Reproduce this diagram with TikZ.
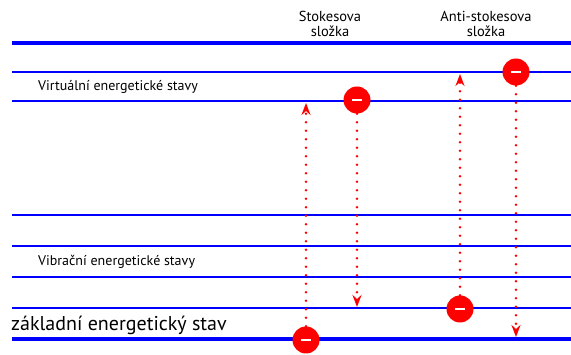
\documentclass[tikz,border=0pt]{standalone}
\usepackage{fontspec}
\setmainfont{PT Sans}
\usetikzlibrary{arrows.meta}
\begin{document}
\begin{tikzpicture}[x=1pt,y=-1pt,
 thinlvl/.style={blue, line width=2pt},
 thicklvl/.style={blue, line width=3.6pt},
 electron/.style={circle, fill=red, minimum size=27pt, inner sep=0pt,
   path picture={\fill[white] ([xshift=-5pt,yshift=-1.4pt]path picture bounding box.center) rectangle ++(10pt,2.8pt);}},
 trans/.style={red, line width=2.8pt, line cap=round, dash pattern=on 0pt off 8.5pt,
   -{Stealth[length=12pt,width=9pt,inset=4pt]}},
 lbl/.style={font=\fontsize{14}{16}\selectfont, anchor=base west, inner sep=0pt},
 head/.style={font=\fontsize{14.5}{15}\selectfont, align=center, inner sep=0pt, anchor=base}
]
\useasboundingbox (0,0) rectangle (571,355);
% energy levels
\draw[thicklvl] (12,43) -- (571,43);
\draw[thinlvl] (12,72) -- (571,72);
\draw[thinlvl] (12,101) -- (571,101);
\draw[thinlvl] (12,215) -- (571,215);
\draw[thinlvl] (12,246) -- (571,246);
\draw[thinlvl] (12,277) -- (571,277);
\draw[thinlvl] (12,308) -- (571,308);
\draw[thicklvl] (12,339) -- (571,339);
% labels
\node[head] (stk) at (330,37) {Stokesova\\složka};
\node[head] (ast) at (486,37) {Anti-stokesova\\složka};
\node[lbl] (virt) at (38,91) {Virtuální energetické stavy};
\node[lbl] (vib) at (38,266) {Vibrační energetické stavy};
\node[font=\fontsize{20}{22}\selectfont, anchor=base west, inner sep=0pt] (zak) at (11,331) {základní energetický stav};
% electrons
\node[electron] (g1) at (306,340) {};
\node[electron] (v1) at (357,100) {};
\node[electron] (a1) at (460,309) {};
\node[electron] (a2) at (516,72) {};
% arrow ends
\coordinate (su) at (306,103);
\coordinate (sd) at (357,307);
\coordinate (au) at (460,74);
\coordinate (ad) at (516,337);
% transitions
\draw[trans] (g1.north) -- (su);
\draw[trans] (v1.south) -- (sd);
\draw[trans] (a1.north) -- (au);
\draw[trans] (a2.south) -- (ad);
\end{tikzpicture}
\end{document}
